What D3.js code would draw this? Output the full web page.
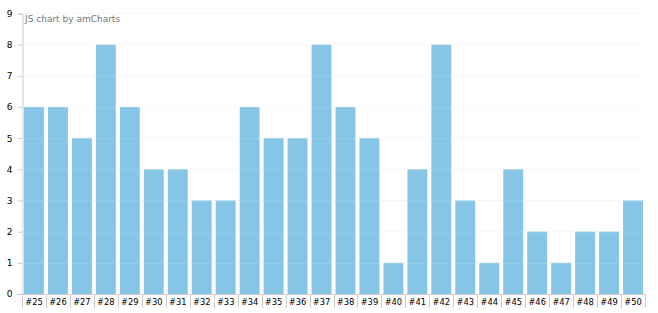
<!DOCTYPE html>
<html><head><meta charset="utf-8">
<script src="https://cdn.jsdelivr.net/npm/d3@7"></script>
<style>html,body{margin:0;padding:0;background:#fff;}svg{display:block;font-family:"DejaVu Sans",Verdana,sans-serif;}</style>
</head><body>
<svg id="c" width="658" height="313"></svg>
<script>
const categories = ["#25","#26","#27","#28","#29","#30","#31","#32","#33","#34","#35","#36","#37","#38","#39","#40","#41","#42","#43","#44","#45","#46","#47","#48","#49","#50"];
const values = [6,6,5,8,6,4,4,3,3,6,5,5,8,6,5,1,4,8,3,1,4,2,1,2,2,3];
const yTicks = [0,1,2,3,4,5,6,7,8,9];

const svg = d3.select("#c");
const L = 22, R = 645, T = 13.5, B = 294;
const x = d3.scaleBand().domain(categories).range([L, R]).paddingInner(0.17).paddingOuter(0.085);
const y = d3.scaleLinear().domain([0, 9]).range([B, T]);

// faint grid behind
svg.append("g").selectAll("line").data(yTicks.slice(1)).join("line")
  .attr("x1", L).attr("x2", R).attr("y1", d => y(d)).attr("y2", d => y(d))
  .attr("stroke", "#000").attr("stroke-opacity", 0.035);

// bars
svg.append("g").selectAll("rect").data(categories).join("rect")
  .attr("x", d => x(d)).attr("width", x.bandwidth())
  .attr("y", (d, i) => y(values[i])).attr("height", (d, i) => B - y(values[i]))
  .attr("fill", "#86c5e5");

// grid over bars (light)
svg.append("g").selectAll("line").data(yTicks.slice(1)).join("line")
  .attr("x1", L).attr("x2", R).attr("y1", d => y(d)+0.5).attr("y2", d => y(d)+0.5)
  .attr("stroke", "#fff").attr("stroke-opacity", 0.15);

// y axis
const ya = svg.append("g").attr("transform", `translate(${L + 0.5},0)`)
  .call(d3.axisLeft(y).tickValues(yTicks).tickSize(5).tickPadding(5).tickFormat(d3.format("d")));
ya.select(".domain").attr("stroke", "#ccc");
ya.selectAll(".tick line").attr("stroke", "#ccc");
ya.selectAll("text").attr("font-size", 9).attr("fill", "#000").attr("font-family", "DejaVu Sans, Verdana, sans-serif");

// x axis
svg.append("line").attr("x1", L).attr("x2", R).attr("y1", B + 0.5).attr("y2", B + 0.5).attr("stroke", "#ccc");
const bounds = d3.range(categories.length + 1).map(i => L + i * (R - L) / categories.length);
svg.append("g").selectAll("line").data(bounds).join("line")
  .attr("x1", d => Math.round(d) + 0.5).attr("x2", d => Math.round(d) + 0.5)
  .attr("y1", B).attr("y2", B + 14).attr("stroke", "#ccc");
svg.append("g").selectAll("text").data(categories).join("text")
  .attr("x", d => x(d) + x.bandwidth() / 2).attr("y", B + 11)
  .attr("text-anchor", "middle").attr("font-size", 8.3).attr("fill", "#000")
  .text(d => d);

// credit
svg.append("text").attr("x", 25).attr("y", 22).attr("font-size", 9).attr("fill", "#777").text("JS chart by amCharts");
</script>
</body></html>
